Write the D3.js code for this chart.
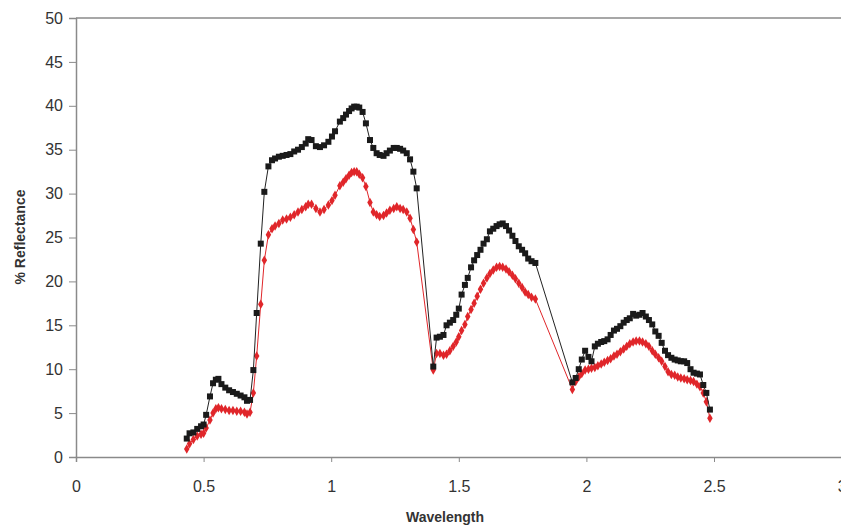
<!DOCTYPE html>
<html>
<head>
<meta charset="utf-8">
<script src="https://cdn.jsdelivr.net/npm/d3@7"></script>
<style>
  body { margin: 0; background: #fff; }
  svg { display: block; font-family: "Liberation Sans", Arial, sans-serif; }
</style>
</head>
<body>
<svg id="chart" width="841" height="526"></svg>
<script>
(function () {
    var width = 841, height = 526;

    // wavelength (micrometres), shared by both spectra
    const wavelength = [0.434, 0.445, 0.46, 0.475, 0.49, 0.50, 0.51, 0.525, 0.537, 0.548, 0.558, 0.57, 0.585, 0.60, 0.615, 0.63, 0.645, 0.66, 0.67, 0.682,
        0.695, 0.708, 0.724, 0.738, 0.754, 0.768, 0.78, 0.795, 0.81, 0.825, 0.84, 0.855, 0.87, 0.885, 0.90, 0.91, 0.923, 0.94, 0.956, 0.972,
        0.989, 1.003, 1.015, 1.034, 1.047, 1.058, 1.07, 1.08, 1.09, 1.10, 1.11, 1.123, 1.136, 1.152, 1.165, 1.178, 1.19, 1.205, 1.217, 1.23,
        1.245, 1.257, 1.27, 1.282, 1.296, 1.309, 1.322, 1.335, 1.40, 1.413, 1.426, 1.44, 1.452, 1.465, 1.478, 1.49, 1.50, 1.511, 1.524, 1.535,
        1.548, 1.56, 1.572, 1.585, 1.597, 1.61, 1.622, 1.635, 1.648, 1.66, 1.672, 1.685, 1.697, 1.71, 1.722, 1.735, 1.748, 1.76, 1.772, 1.785,
        1.80, 1.945, 1.958, 1.97, 1.982, 1.995, 2.008, 2.02, 2.033, 2.045, 2.058, 2.07, 2.083, 2.095, 2.108, 2.12, 2.133, 2.146, 2.158, 2.17,
        2.183, 2.195, 2.208, 2.22, 2.233, 2.245, 2.258, 2.27, 2.283, 2.295, 2.308, 2.32, 2.333, 2.346, 2.358, 2.37, 2.383, 2.395, 2.408, 2.42,
        2.433, 2.445, 2.458, 2.47, 2.484];

    // black squares
    const reflectanceA = [2.1, 2.7, 2.8, 3.2, 3.5, 3.7, 4.8, 6.9, 8.4, 8.8, 8.9, 8.3, 7.9, 7.6, 7.4, 7.2, 7.0, 6.8, 6.4, 6.5,
        9.9, 16.4, 24.3, 30.2, 33.1, 33.8, 34.0, 34.2, 34.3, 34.4, 34.5, 34.8, 35.0, 35.3, 35.7, 36.2, 36.1, 35.4, 35.3, 35.5,
        35.9, 36.5, 37.1, 38.2, 38.6, 39.0, 39.4, 39.7, 39.9, 39.9, 39.8, 39.3, 38.0, 36.1, 35.2, 34.6, 34.4, 34.3, 34.6, 34.9,
        35.2, 35.2, 35.1, 34.9, 34.6, 33.9, 32.5, 30.6, 10.3, 13.6, 13.7, 13.9, 15.0, 15.3, 15.6, 16.2, 16.9, 18.5, 19.6, 20.4,
        21.6, 22.4, 23.0, 23.6, 24.3, 24.8, 25.7, 26.0, 26.3, 26.5, 26.6, 26.3, 25.8, 25.2, 24.6, 24.0, 23.6, 23.2, 22.6, 22.3,
        22.1, 8.5, 9.0, 10.0, 11.1, 12.1, 11.4, 10.9, 12.6, 12.9, 13.1, 13.2, 13.4, 13.9, 14.4, 14.6, 14.9, 15.3, 15.6, 15.8,
        16.3, 16.1, 16.2, 16.4, 16.0, 15.6, 15.1, 14.3, 13.8, 13.0, 12.1, 11.6, 11.3, 11.1, 11.0, 10.9, 10.9, 10.7, 10.0, 9.6,
        9.5, 9.4, 8.2, 7.3, 5.4];

    // red diamonds
    const reflectanceB = [0.9, 1.5, 2.0, 2.4, 2.6, 2.7, 3.3, 4.2, 5.0, 5.5, 5.6, 5.5, 5.4, 5.3, 5.3, 5.2, 5.2, 5.1, 4.9, 5.1,
        7.3, 11.5, 17.4, 22.4, 25.3, 26.0, 26.3, 26.6, 27.0, 27.1, 27.3, 27.6, 27.9, 28.2, 28.5, 28.8, 28.8, 28.3, 27.9, 28.2,
        28.7, 29.2, 29.8, 30.9, 31.3, 31.7, 32.1, 32.4, 32.5, 32.5, 32.2, 31.8, 30.8, 29.0, 27.9, 27.6, 27.4, 27.5, 27.8, 28.1,
        28.3, 28.5, 28.3, 28.2, 27.9, 27.2, 25.9, 24.5, 9.9, 11.8, 11.8, 11.6, 11.7, 12.1, 12.6, 13.1, 13.7, 14.4, 15.1, 16.0,
        16.8, 17.5, 18.3, 19.1, 19.8, 20.4, 20.9, 21.3, 21.6, 21.7, 21.6, 21.4, 21.1, 20.7, 20.3, 19.8, 19.3, 18.8, 18.5, 18.2,
        18.0, 7.7, 8.6, 9.1, 9.5, 9.9, 10.0, 10.1, 10.2, 10.4, 10.6, 10.8, 11.0, 11.2, 11.5, 11.7, 12.0, 12.3, 12.6, 12.9,
        13.1, 13.2, 13.2, 13.1, 12.9, 12.6, 12.1, 11.7, 11.3, 10.9, 10.3, 9.7, 9.4, 9.3, 9.1, 9.0, 8.9, 8.8, 8.7, 8.6,
        8.3, 8.0, 7.3, 6.3, 4.4];

    const xTicks = [0, 0.5, 1, 1.5, 2, 2.5, 3];
    const yTicks = [0, 5, 10, 15, 20, 25, 30, 35, 40, 45, 50];

    var margin = { top: 18, right: 0, bottom: 69, left: 76 };

    var x = d3.scaleLinear().domain([0, 3]).range([margin.left, margin.left + 3 * 255.2]);
    var y = d3.scaleLinear().domain([0, 50]).range([height - margin.bottom, margin.top]);

    const svg = d3.select("#chart");
    const axisColor = "#8a8a8a";

    // top border
    svg.append("line")
        .attr("x1", x(0)).attr("x2", width)
        .attr("y1", y(50)).attr("y2", y(50))
        .attr("stroke", axisColor).attr("stroke-width", 1.5);

    //axes
    var xAxis = svg.append("g")
        .attr("transform", "translate(0," + y(0) + ")")
        .call(d3.axisBottom(x).tickValues(xTicks).tickSize(5).tickPadding(19).tickFormat(d3.format("")));

    var yAxis = svg.append("g")
        .attr("transform", "translate(" + x(0) + ",0)")
        .call(d3.axisLeft(y).tickValues(yTicks).tickSize(7).tickPadding(6));

    [xAxis, yAxis].forEach(function (g) {
        g.select(".domain").attr("stroke", axisColor).attr("stroke-width", 1.5);
        g.selectAll(".tick line").attr("stroke", axisColor);
        g.selectAll(".tick text").attr("fill", "#333").style("font-size", "16px")
            .style("font-family", "'Liberation Sans', Arial, sans-serif");
    });

    // axis titles
    svg.append("text")
        .attr("x", 445).attr("y", 522)
        .attr("text-anchor", "middle")
        .attr("fill", "#333").style("font-size", "14px").style("font-weight", "bold")
        .text("Wavelength");

    svg.append("text")
        .attr("transform", "translate(25," + 237 + ") rotate(-90)")
        .attr("text-anchor", "middle")
        .attr("fill", "#333").style("font-size", "14px").style("font-weight", "bold")
        .text("% Reflectance");

    var seriesA = wavelength.map((w, i) => ({ w: w, v: reflectanceA[i] }));
    var seriesB = wavelength.map((w, i) => ({ w: w, v: reflectanceB[i] }));

    var line = d3.line().x(d => x(d.w)).y(d => y(d.v));

    // red series first so the black sits on top
    svg.append("path")
        .datum(seriesB)
        .attr("d", line)
        .attr("fill", "none")
        .attr("stroke", "#e0262a")
        .attr("stroke-width", 1);

    svg.append("g")
        .selectAll("path")
        .data(seriesB)
        .join("path")
        .attr("d", d3.symbol(d3.symbolDiamond, 26))
        .attr("transform", d => "translate(" + x(d.w) + "," + y(d.v) + ")")
        .attr("fill", "#e0262a");

    svg.append("path")
        .datum(seriesA)
        .attr("d", line)
        .attr("fill", "none")
        .attr("stroke", "#222")
        .attr("stroke-width", 1);

    svg.append("g")
        .selectAll("rect")
        .data(seriesA)
        .join("rect")
        .attr("x", d => x(d.w) - 3)
        .attr("y", d => y(d.v) - 3)
        .attr("width", 6)
        .attr("height", 6)
        .attr("fill", "#1a1a1a");
})();
</script>
</body>
</html>
